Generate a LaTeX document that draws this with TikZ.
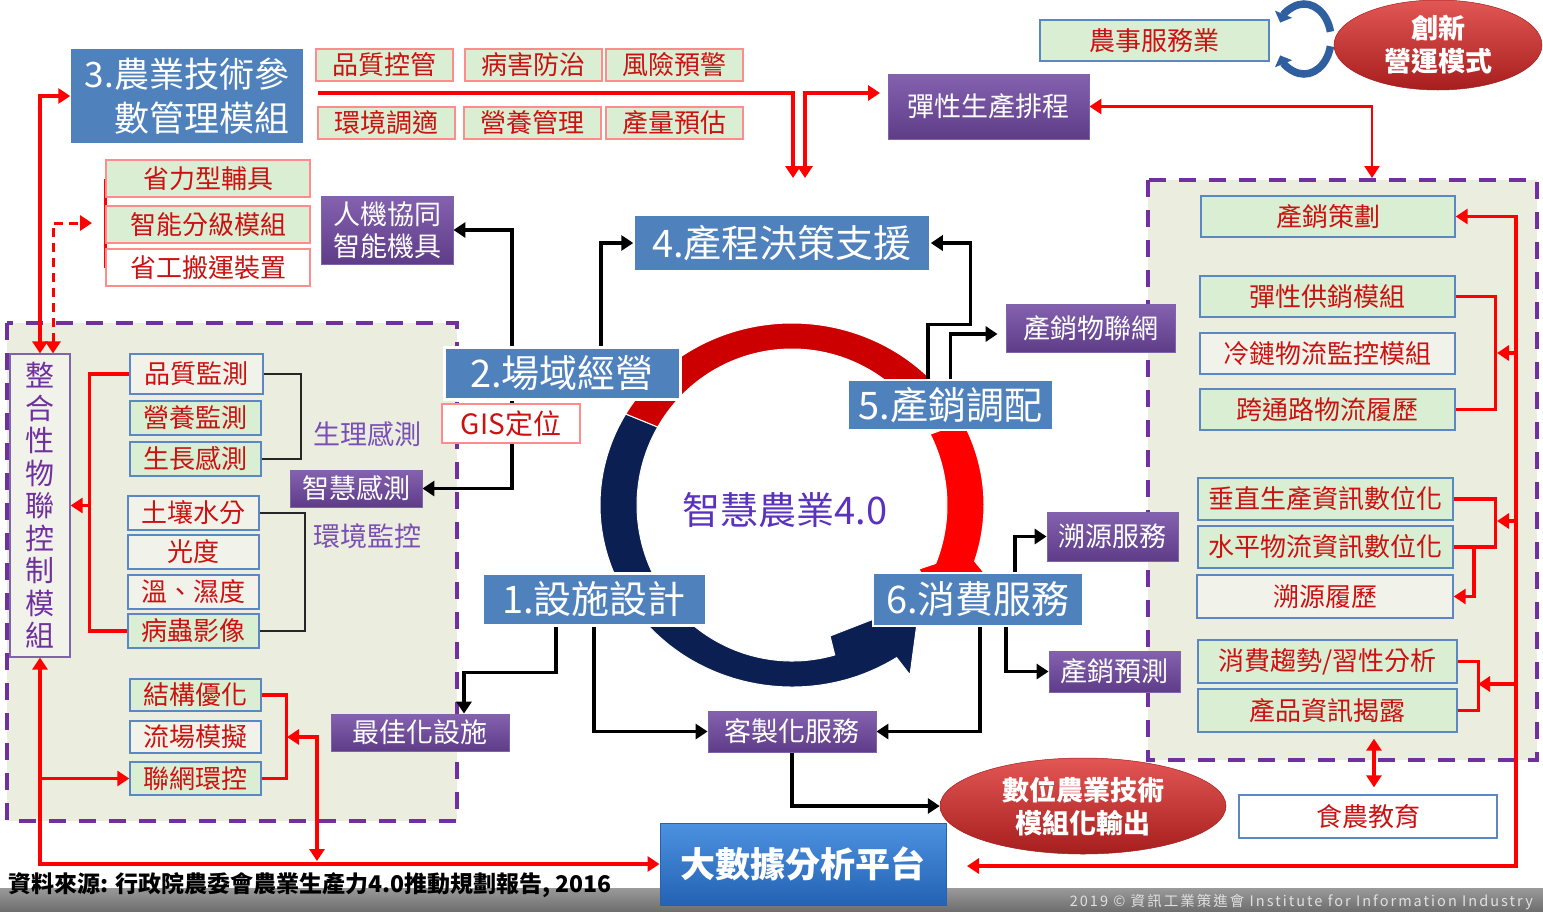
\documentclass[tikz,border=0pt]{standalone}
\usepackage{fontspec}
\setmainfont{Noto Sans CJK TC}
\newfontfamily\copyfont{Noto Sans CJK TC}[LetterSpace=14]
\usepackage{xcolor}
\usepackage{tikz}
\usetikzlibrary{arrows.meta,shapes.geometric}

\pgfdeclarelayer{back}
\pgfdeclarelayer{mid}
\pgfsetlayers{back,mid,main}

\definecolor{stageblue}{HTML}{4F81BD}
\definecolor{txtred}{HTML}{CC1111}
\definecolor{pinkln}{HTML}{FF8C8C}
\definecolor{blueln}{HTML}{5B87C4}
\definecolor{gfill}{HTML}{D9EED2}
\definecolor{lfill}{HTML}{F1F3EA}
\definecolor{zonebg}{HTML}{EBEEDF}
\definecolor{zoneln}{HTML}{7030A0}
\definecolor{purtop}{HTML}{8462AF}
\definecolor{purbot}{HTML}{5E3C88}
\definecolor{purln}{HTML}{7E64A8}
\definecolor{purtxt}{HTML}{7A4FB5}
\definecolor{cyctxt}{HTML}{5A32BE}
\definecolor{navy}{HTML}{0C1F52}
\definecolor{darkred}{HTML}{CC0000}
\definecolor{iconblue}{HTML}{2F5F9E}
\definecolor{elltop}{HTML}{E25754}
\definecolor{ellbot}{HTML}{A71E1E}
\definecolor{bigtop}{HTML}{4C92E0}
\definecolor{bigbot}{HTML}{2462B4}
\definecolor{bandtop}{HTML}{9A9A9A}
\definecolor{bandbot}{HTML}{6E6E6E}

\begin{document}
\begin{tikzpicture}[
        x=1pt, y=-1pt,
        >={Triangle[length=12pt,width=15pt]},
        txt/.style={inner sep=0pt, text=txtred, line width=1.4pt, font=\fontsize{26}{28}\selectfont},
        gpink/.style={txt, draw=pinkln, fill=gfill},
        wpink/.style={txt, draw=pinkln, fill=white},
        gblue/.style={txt, draw=blueln, fill=gfill},
        lblue/.style={txt, draw=blueln, fill=lfill},
        wblue/.style={txt, draw=blueln, fill=white},
        tag/.style={minimum width=137pt, minimum height=32pt},
        stage/.style={inner sep=0pt, fill=stageblue, draw=white, line width=1.5pt, text=white, font=\fontsize{38}{40}\selectfont},
        pbox/.style={inner sep=0pt, top color=purtop, bottom color=purbot, draw=purln, line width=0.8pt, text=white, font=\fontsize{27}{32}\selectfont},
        oval/.style={ellipse, inner sep=0pt, top color=elltop, bottom color=ellbot, draw=ellbot, line width=0.5pt, text=white, align=center, font=\bfseries\fontsize{27}{33}\selectfont},
        zone/.style={fill=zonebg, draw=zoneln, line width=4.5pt, dash pattern=on 17pt off 13pt},
        blkarr/.style={draw=black, line width=3.2pt, ->},
        redln/.style={draw=red, line width=3.5pt},
        redarr/.style={redln, ->},
        redboth/.style={redln, <->},
        thinln/.style={draw=black!85, line width=1.6pt},
        ring/.style={draw=white, line width=1pt},
        loopar/.style={draw=iconblue, line width=7.5pt, -{Triangle[length=9pt,width=18pt]}},
    ]
    \useasboundingbox (0,0) rectangle (1543,911);

    % zones and footer band
    \begin{pgfonlayer}{back}
        \draw[zone] (7,323) rectangle (457,821);
        \draw[zone] (1148,180) rectangle (1537,760);
        \fill[top color=bandtop, bottom color=bandbot] (0,888) rectangle (1543,911);
    \end{pgfonlayer}

    % top
    \node[stage, draw=none, font=\fontsize{35}{44}\selectfont, align=right, minimum width=232pt, minimum height=94pt] (mod3) at (187,96) {3.農業技術參\\數管理模組};
    \node[gpink, tag] (pzkg) at (384.5,65) {品質控管};
    \node[gpink, tag] (bhfz) at (533.5,65) {病害防治};
    \node[gpink, tag] (fxyj) at (674.5,65) {風險預警};
    \node[gpink, tag] (hjts) at (386.5,123) {環境調適};
    \node[gpink, tag] (yygl) at (532.5,123) {營養管理};
    \node[gpink, tag] (clyg) at (674.5,123) {產量預估};
    \node[pbox, font=\fontsize{27}{30}\selectfont, minimum width=201pt, minimum height=65pt] (flex) at (988.5,106.5) {彈性生產排程};
    \node[gblue, minimum width=229pt, minimum height=41pt] (nsfw) at (1154.5,40.5) {農事服務業};
    \node[oval, minimum width=208pt, minimum height=90pt] (cxms) at (1438,45) {創新\\營運模式};
    \begin{scope}[shift={(1304,39)}, yscale=-1]
        \draw[loopar] (12:27 and 35) arc[start angle=12, end angle=152, x radius=27, y radius=35];
        \draw[loopar] (-12:27 and 35) arc[start angle=-12, end angle=-152, x radius=27, y radius=35];
    \end{scope}

    % left
    \node[gpink, minimum width=204pt, minimum height=37pt] (slfj) at (208,178.5) {省力型輔具};
    \node[gpink, minimum width=204pt, minimum height=37pt] (znfj) at (208,224.5) {智能分級模組};
    \node[wpink, minimum width=204pt, minimum height=37pt] (sgby) at (208,267.5) {省工搬運裝置};
    \node[pbox, align=center, minimum width=132pt, minimum height=68pt] (rjxt) at (387,230) {人機協同\\智能機具};
    \node[inner sep=0pt, fill=lfill, draw=purln, line width=1.2pt, text=zoneln, align=center, font=\fontsize{29}{32.5}\selectfont, minimum width=60pt, minimum height=303pt] (iot) at (40,505.5) {整\\合\\性\\物\\聯\\控\\制\\模\\組};
    \node[lblue, minimum width=133pt, minimum height=40pt] (pzjc) at (196.5,374) {品質監測};
    \node[gblue, minimum width=131pt, minimum height=34pt] (yyjc) at (195.5,418) {營養監測};
    \node[gblue, minimum width=131pt, minimum height=34pt] (szgc) at (195.5,459) {生長感測};
    \node[lblue, minimum width=131pt, minimum height=34pt] (trsf) at (193.5,513) {土壤水分};
    \node[lblue, minimum width=131pt, minimum height=34pt] (gdu) at (193.5,552) {光度};
    \node[lblue, minimum width=131pt, minimum height=34pt] (wsd) at (193.5,592) {溫、濕度};
    \node[gblue, minimum width=131pt, minimum height=34pt] (bcyx) at (193.5,631) {病蟲影像};
    \node[text=purtxt, font=\fontsize{27}{30}\selectfont] (slgc) at (367,434) {生理感測};
    \node[text=purtxt, font=\fontsize{27}{30}\selectfont] (hjjk) at (367,536) {環境監控};
    \node[pbox, minimum width=132pt, minimum height=37pt] (zhgc) at (356,488.5) {智慧感測};
    \node[gblue, minimum width=131pt, minimum height=32pt] (jgyh) at (195.5,695) {結構優化};
    \node[lblue, minimum width=131pt, minimum height=32pt] (lcmn) at (195.5,737) {流場模擬};
    \node[gblue, minimum width=131pt, minimum height=33pt] (lwhk) at (195.5,778.5) {聯網環控};
    \node[pbox, minimum width=178pt, minimum height=37pt] (best) at (420,732.5) {最佳化設施};

    % center
    \node[stage, line width=3pt, minimum width=236pt, minimum height=52pt] (st2) at (562,373) {2.場域經營};
    \node[wpink, font=\fontsize{28}{30}\selectfont, minimum width=138pt, minimum height=39pt] (gis) at (511,423.5) {GIS定位};
    \node[stage, minimum width=296pt, minimum height=56pt] (st4) at (782,243) {4.產程決策支援};
    \node[stage, minimum width=205pt, minimum height=50pt] (st5) at (950.5,405) {5.產銷調配};
    \node[pbox, minimum width=169pt, minimum height=48pt] (cxwl) at (1090.5,328) {產銷物聯網};
    \node[stage, line width=3pt, minimum width=224pt, minimum height=52pt] (st1) at (594,599) {1.設施設計};
    \node[stage, minimum width=210pt, minimum height=53pt] (st6) at (978,599.5) {6.消費服務};
    \node[text=cyctxt, font=\fontsize{38}{40}\selectfont] (core) at (785,510) {智慧農業4.0};
    \node[pbox, minimum width=168pt, minimum height=41pt] (kzfw) at (792,731.5) {客製化服務};
    \node[pbox, minimum width=131pt, minimum height=49pt] (syfw) at (1112.5,536.5) {溯源服務};
    \node[pbox, minimum width=131pt, minimum height=41pt] (cxyc) at (1114.5,671.5) {產銷預測};
    \node[oval, minimum width=286pt, minimum height=96pt] (digi) at (1083,806) {數位農業技術\\模組化輸出};
    \node[inner sep=0pt, top color=bigtop, bottom color=bigbot, draw=bigbot, line width=1pt, text=white, font=\bfseries\fontsize{35}{38}\selectfont, minimum width=286pt, minimum height=82pt] (big) at (803,864) {大數據分析平台};

    % right
    \node[gblue, minimum width=254pt, minimum height=41pt] (cxch) at (1328,216.5) {產銷策劃};
    \node[gblue, minimum width=255pt, minimum height=41pt] (txgx) at (1327.5,296.5) {彈性供銷模組};
    \node[lblue, minimum width=255pt, minimum height=41pt] (llwl) at (1327.5,353.5) {冷鏈物流監控模組};
    \node[gblue, minimum width=255pt, minimum height=41pt] (ktl) at (1327.5,409.5) {跨通路物流履歷};
    \node[gblue, minimum width=255pt, minimum height=42pt] (czsc) at (1325.5,499) {垂直生產資訊數位化};
    \node[gblue, minimum width=255pt, minimum height=42pt] (spwl) at (1325.5,547) {水平物流資訊數位化};
    \node[lblue, minimum width=256pt, minimum height=43pt] (syll) at (1325,596.5) {溯源履歷};
    \node[gblue, minimum width=259pt, minimum height=43pt] (xfqs) at (1327.5,661.5) {消費趨勢/習性分析};
    \node[gblue, minimum width=259pt, minimum height=43pt] (cpzx) at (1327.5,710.5) {產品資訊揭露};
    \node[wblue, minimum width=258pt, minimum height=43pt] (snjy) at (1368,816.5) {食農教育};

    % footer
    \node[anchor=west, inner sep=0pt, font=\bfseries\fontsize{23}{25}\selectfont] (src) at (8,885) {資料來源: 行政院農委會農業生產力4.0推動規劃報告, 2016};
    \node[anchor=east, inner sep=0pt, text=white!88!black, font=\copyfont\fontsize{14.5}{16}\selectfont] (copy) at (1533,902) {2019 © 資訊工業策進會 Institute for Information Industry};

    % cycle and connectors
    \begin{pgfonlayer}{mid}
        \begin{scope}[shift={(792,505)}, yscale=-1]
            \filldraw[fill=navy, ring] (150:192 and 182) arc[start angle=150, end angle=215, x radius=192, y radius=182]
                -- (215:155 and 156) arc[start angle=215, end angle=150, x radius=155, y radius=156] -- cycle;
            \filldraw[fill=darkred, ring] (150:192 and 182) arc[start angle=150, end angle=38, x radius=192, y radius=182]
                -- (30:172 and 168) -- (38:155 and 156) arc[start angle=38, end angle=150, x radius=155, y radius=156] -- cycle;
            \filldraw[fill=red, ring] (27:192 and 182) arc[start angle=27, end angle=-18, x radius=192, y radius=182]
                -- (194,-70) -- (150,-110) -- (127,-64) -- (-22:155 and 156) arc[start angle=-22, end angle=27, x radius=155, y radius=156] -- cycle;
            \filldraw[fill=navy, ring] (-145:192 and 182) arc[start angle=-145, end angle=-57, x radius=192, y radius=182]
                -- (118,-170) -- (128,-96) -- (38,-131) -- (-74:155 and 156) arc[start angle=-74, end angle=-145, x radius=155, y radius=156] -- cycle;
        \end{scope}

        \coordinate (jn) at (318,93);
        \coordinate (dn1) at (793,178);
        \coordinate (dn2) at (805,178);
        \coordinate (rt) at (880,93);
        \coordinate (rz) at (1372,178);
        \draw[redarr] (jn) -| (dn1);
        \draw[redboth] (dn2) |- (rt);
        \draw[redboth, line width=2.6pt] (flex.east) -| (rz);

        \coordinate (dsh) at (92,223);
        \draw[redboth] (iot.north) |- (mod3.west);
        \draw[redboth, line width=3pt, dash pattern=on 9pt off 6pt] ([xshift=13pt]iot.north) |- (dsh);
        \draw[redln] (slfj.west) -- (sgby.west);

        \draw[blkarr] (st2.north -| 512,0) |- (rjxt.east);
        \draw[blkarr] (st2.north -| 601,0) |- (st4.west);
        \draw[blkarr] (st2.south -| 512,0) |- (zhgc.east);
        \draw[thinln] (pzjc.east) -- ++(37,0) |- (szgc.east);
        \draw[thinln] (trsf.east) -- ++(45,0) |- (bcyx.east);
        \coordinate (lbr) at (90,505.5);
        \draw[redln] (pzjc.west) -- ++(-40,0) |- (bcyx.west);
        \draw[redarr] (lbr) -- (iot.east);

        \coordinate (lcm) at (287,737);
        \coordinate (bus) at (317,861);
        \coordinate (lwb) at (40,778.5);
        \draw[redln] (jgyh.east) -- ++(25,0) |- (lwhk.east);
        \draw[redboth] (lcm) -| (bus);
        \draw[redboth] (iot.south) |- (big.west);
        \draw[redarr] (lwb) -- (lwhk.west);
        \draw[blkarr] (st1.south -| 556,0) -- ++(0,46) -| ([xshift=44pt]best.north);

        \draw[blkarr] (st1.south -| 594,0) |- (kzfw.west);
        \draw[blkarr] (st6.south -| 980,0) |- (kzfw.east);
        \draw[blkarr] (kzfw.south) |- (digi.west);
        \draw[blkarr] (st6.north -| 1015,0) |- (syfw.west);
        \draw[blkarr] (st6.south -| 1006,0) |- (cxyc.west);
        \draw[blkarr] (st5.north -| 928,0) -- ++(0,-55) -| ([xshift=40pt]st4.east) -- (st4.east);
        \draw[blkarr] (st5.north) |- ([xshift=-8pt,yshift=-6pt]cxwl.west);

        \coordinate (rbus) at (1516,866);
        \coordinate (rend) at (967,866);
        \coordinate (h1) at (1516,353);
        \coordinate (h2) at (1516,521);
        \coordinate (h3) at (1516,684);
        \draw[redboth] (cxch.east) -| (rbus) -- (rend);
        \draw[redln] (txgx.east) -- ++(40,0) |- (ktl.east);
        \draw[redarr] (h1) -- ++(-19,0);
        \draw[redln] (czsc.east) -- ++(42,0) |- (spwl.east);
        \draw[redarr] (h2) -- ++(-19,0);
        \draw[redarr] (spwl.east -| 1474,0) |- (syll.east);
        \draw[redln] (xfqs.east) -- ++(21,0) |- (cpzx.east);
        \draw[redarr] (h3) -- ++(-38,0);
        \draw[redboth, shorten <=6pt, shorten >=7pt] (cpzx.south -| 1374,0) -- (snjy.north -| 1374,0);
    \end{pgfonlayer}
\end{tikzpicture}
\end{document}
